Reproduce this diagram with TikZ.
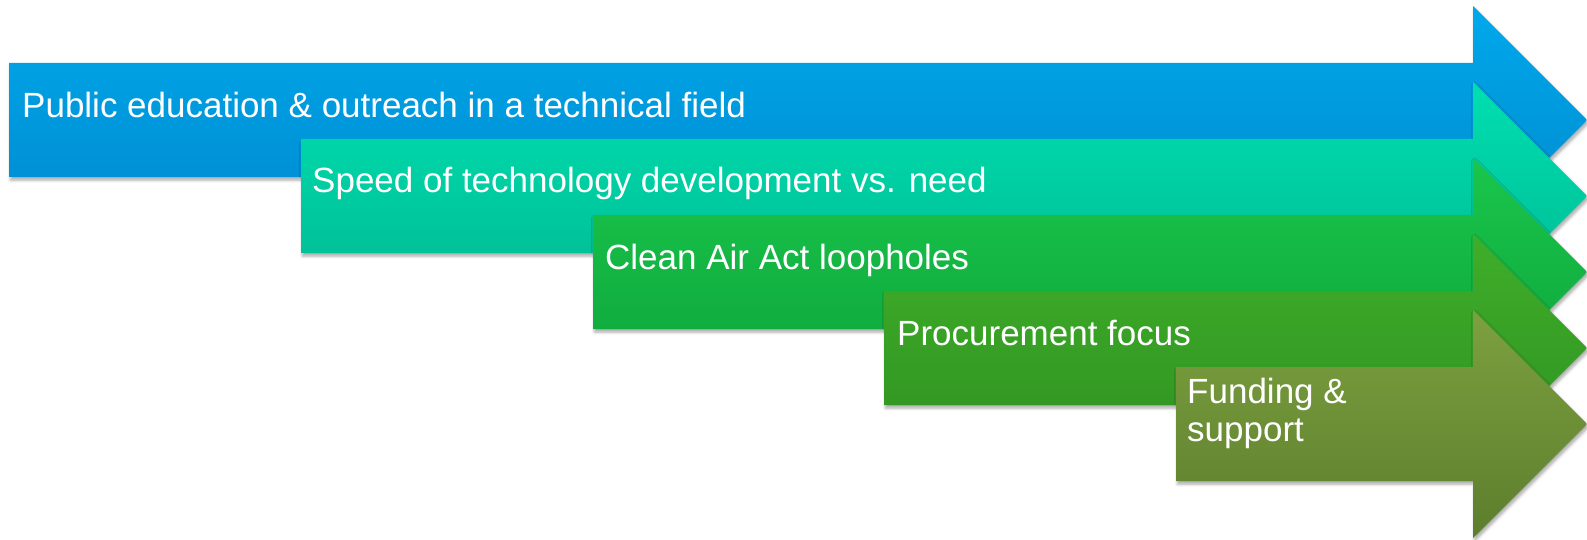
\documentclass[tikz,border=0pt]{standalone}
\usepackage{fontspec}
\setmainfont{Liberation Sans}
\usetikzlibrary{shadows.blur}
\definecolor{aTop}{HTML}{00A9EB}
\definecolor{aBot}{HTML}{0088CE}
\definecolor{bTop}{HTML}{00DFB0}
\definecolor{bBot}{HTML}{00B891}
\definecolor{cTop}{HTML}{1AC64B}
\definecolor{cBot}{HTML}{0DA43B}
\definecolor{dTop}{HTML}{40AE2A}
\definecolor{dBot}{HTML}{2E9120}
\definecolor{eTop}{HTML}{7DA040}
\definecolor{eBot}{HTML}{5C7E2D}
\newcommand\bigarrow[4]{%
  \path[arrowshape,top color=#3,bottom color=#4]
    (#1,#2) -- (1473,#2) -- (1473,{#2-57}) -- (1587,{#2+57})
    -- (1473,{#2+171}) -- (1473,{#2+114}) -- (#1,{#2+114}) -- cycle;}
\begin{document}
\begin{tikzpicture}[x=1pt,y=-1pt,
  arrowshape/.style={blur shadow={shadow xshift=1.5pt,shadow yshift=-3pt,shadow blur radius=3pt,shadow opacity=35}},
  txt/.style={text=white,font=\fontsize{35}{38}\selectfont,anchor=base west,inner sep=0pt,align=left}]
\useasboundingbox (0,0) rectangle (1587,540);
\bigarrow{9}{63}{aTop}{aBot}
\node[txt] (t1) at (22,118) {Public education \& outreach in a technical field};
\bigarrow{301}{139}{bTop}{bBot}
\node[txt] (t2) at (312,193) {Speed of technology development vs. need};
\bigarrow{593}{215}{cTop}{cBot}
\node[txt] (t3) at (605,269) {Clean Air Act loopholes};
\bigarrow{884}{291}{dTop}{dBot}
\node[txt] (t4) at (897,345) {Procurement focus};
\bigarrow{1176}{367}{eTop}{eBot}
\node[txt] (t5) at (1187,403) {Funding \&};
\node[txt] (t6) at (1187,441) {support};
\end{tikzpicture}
\end{document}
